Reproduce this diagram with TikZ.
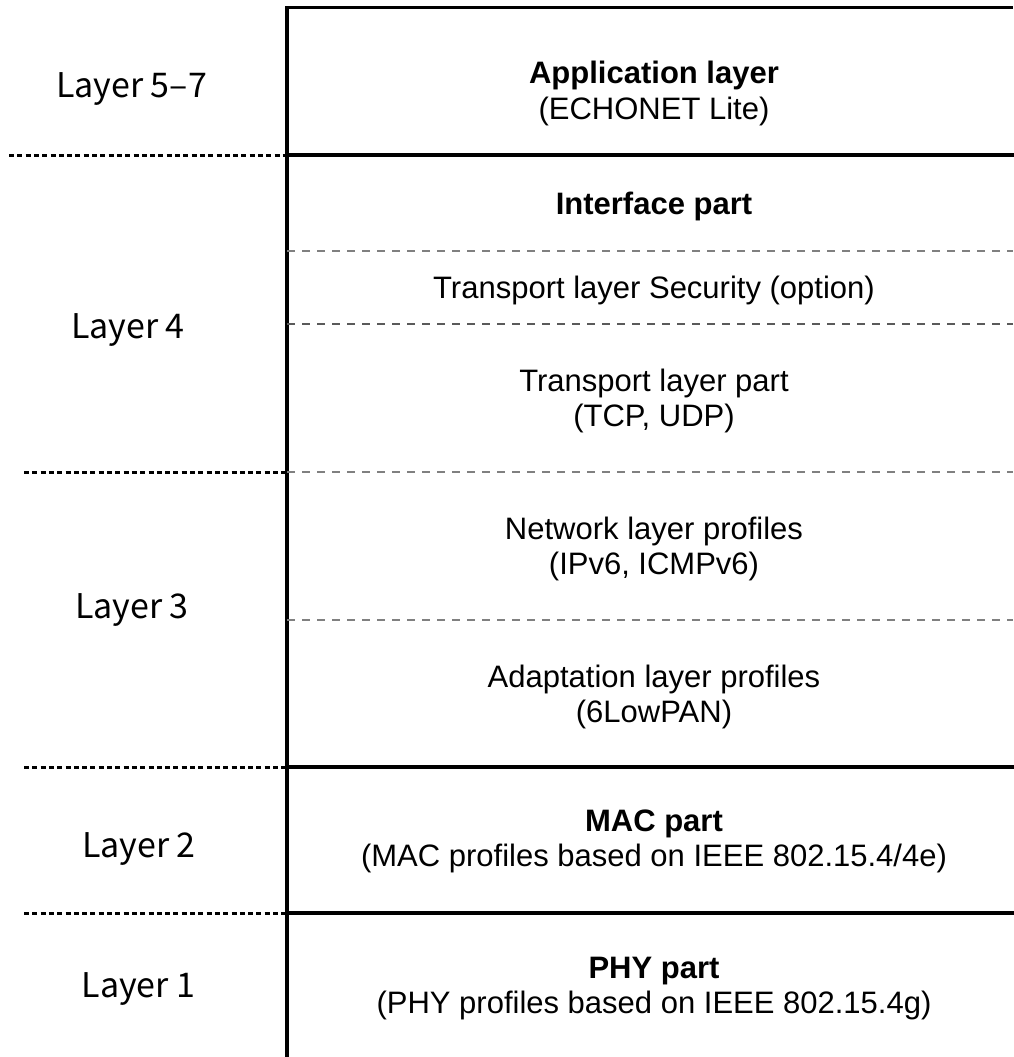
\documentclass[tikz,border=0pt]{standalone}
\usepackage{fontspec}
\setmainfont{Liberation Sans}
\newfontfamily\gothic{Noto Sans CJK JP}
\begin{document}
\begin{tikzpicture}[x=1pt,y=-1pt,
  solidsep/.style={line width=3.3pt, line cap=rect},
  leftdots/.style={line width=3pt, dash pattern=on 5pt off 3.3pt},
  subsep/.style={line width=1.4pt, draw={rgb,255:red,128;green,128;blue,128}, dash pattern=on 8pt off 7pt},
  laylabel/.style={anchor=base, inner sep=0pt, font=\gothic\fontsize{34}{40}\selectfont},
  stacktext/.style={anchor=base, inner sep=0pt, font=\fontsize{31}{35}\selectfont},
  stackhead/.style={stacktext, font=\bfseries\fontsize{31}{35}\selectfont}]

\useasboundingbox (0,0) rectangle (1013,1057);

% frame of the protocol stack
\coordinate (ftop) at (287,7.5);
\coordinate (fbot) at (287,1057);
\draw[line width=3.3pt] (fbot) -- (ftop) -- (1013,7.5);
\draw[solidsep] (287,155) -- (1013,155);
\draw[solidsep] (287,767) -- (1013,767);
\draw[solidsep] (287,913) -- (1013,913);

% sub-divisions inside layers 3 and 4
\draw[subsep] (287,251) -- (1013,251);
\draw[subsep, draw={rgb,255:red,90;green,90;blue,90}, line width=1.2pt] (287,324) -- (1013,324);
\draw[subsep] (287,472) -- (1013,472);
\draw[subsep] (287,620) -- (1013,620);

% OSI layer boundaries on the left
\draw[leftdots] (9,155) -- (287,155);
\draw[leftdots] (24,472) -- (287,472);
\draw[leftdots] (24,767) -- (287,767);
\draw[leftdots] (24,913) -- (287,913);

% OSI layer labels
\node[laylabel] (l57) at (131.5,97) {Layer 5–7};
\node[laylabel] (l4) at (128,338) {Layer 4};
\node[laylabel] (l3) at (132,618) {Layer 3};
\node[laylabel] (l2) at (139,857) {Layer 2};
\node[laylabel] (l1) at (138.5,997) {Layer 1};

% stack contents
\node[stackhead] (app) at (654,84) {Application layer};
\node[stacktext] (appb) at (654,119) {(ECHONET Lite)};
\node[stackhead] (ifp) at (654,214) {Interface part};
\node[stacktext] (tls) at (654,298.5) {Transport layer Security (option)};
\node[stacktext] (tp) at (654,391.5) {Transport layer part};
\node[stacktext] (tpb) at (654,426.5) {(TCP, UDP)};
\node[stacktext] (nw) at (654,539.5) {Network layer profiles};
\node[stacktext] (nwb) at (654,574.5) {(IPv6, ICMPv6)};
\node[stacktext] (ad) at (654,687) {Adaptation layer profiles};
\node[stacktext] (adb) at (654,722) {(6LowPAN)};
\node[stackhead] (mac) at (654,831) {MAC part};
\node[stacktext] (macb) at (654,866) {(MAC profiles based on IEEE 802.15.4/4e)};
\node[stackhead] (phy) at (654,978) {PHY part};
\node[stacktext] (phyb) at (654,1013) {(PHY profiles based on IEEE 802.15.4g)};
\end{tikzpicture}
\end{document}
